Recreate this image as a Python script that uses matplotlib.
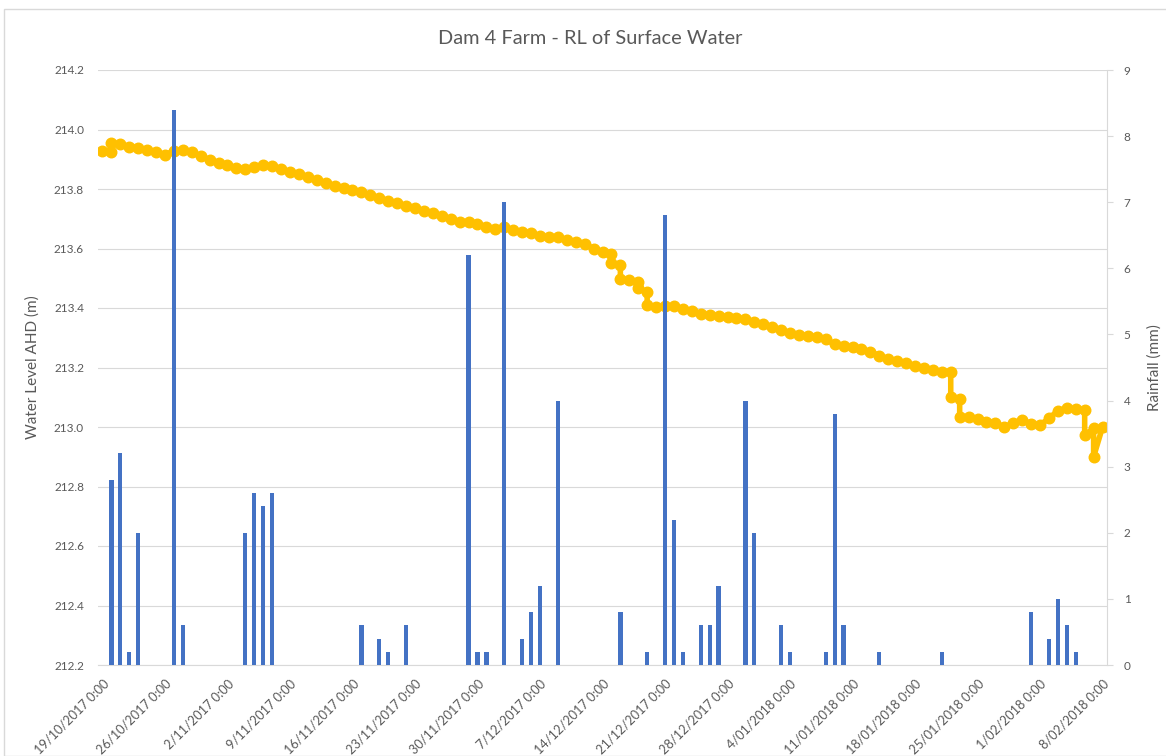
import matplotlib
matplotlib.use("Agg")
import matplotlib.pyplot as plt
import matplotlib.dates as mdates
import numpy as np
import pandas as pd
from matplotlib.patches import Rectangle

# ---------------- data ----------------
start_date = "2017-10-19"

# first water-level reading of each day (m AHD), 19/10/2017 .. 8/02/2018
level_daily = [
    213.928, 213.925, 213.951, 213.942, 213.939, 213.931, 213.923, 213.914, 213.929, 213.931,
    213.923, 213.912, 213.897, 213.889, 213.881, 213.869, 213.866, 213.873, 213.880, 213.877,
    213.866, 213.857, 213.850, 213.839, 213.830, 213.821, 213.810, 213.803, 213.795, 213.789,
    213.780, 213.769, 213.761, 213.752, 213.744, 213.735, 213.727, 213.718, 213.710, 213.699,
    213.690, 213.688, 213.682, 213.673, 213.666, 213.673, 213.662, 213.656, 213.651, 213.643,
    213.637, 213.637, 213.628, 213.623, 213.615, 213.600, 213.589, 213.582, 213.545, 213.494,
    213.488, 213.455, 213.404, 213.407, 213.407, 213.398, 213.390, 213.380, 213.376, 213.373,
    213.369, 213.365, 213.362, 213.354, 213.345, 213.335, 213.326, 213.317, 213.309, 213.306,
    213.303, 213.295, 213.278, 213.272, 213.268, 213.261, 213.253, 213.240, 213.229, 213.222,
    213.214, 213.205, 213.200, 213.193, 213.186, 213.186, 213.093, 213.032, 213.026, 213.018,
    213.012, 213.001, 213.012, 213.024, 213.010, 213.007, 213.029, 213.055, 213.063, 213.059,
    213.057, 212.995, 213.000,
]

# later readings on days with a rapid change within the day
step_dates = ["2017-10-20", "2017-12-15", "2017-12-16", "2017-12-18", "2017-12-19",
              "2018-01-22", "2018-01-23", "2018-02-06", "2018-02-07"]
step_levels = [213.955, 213.550, 213.497, 213.466, 213.410,
               213.100, 213.035, 212.973, 212.900]

rain_dates = [
    "2017-10-20", "2017-10-21", "2017-10-22", "2017-10-23", "2017-10-27", "2017-10-28",
    "2017-11-04", "2017-11-05", "2017-11-06", "2017-11-07", "2017-11-17", "2017-11-19",
    "2017-11-20", "2017-11-22", "2017-11-29", "2017-11-30", "2017-12-01", "2017-12-03",
    "2017-12-05", "2017-12-06", "2017-12-07", "2017-12-09", "2017-12-16", "2017-12-19",
    "2017-12-21", "2017-12-22", "2017-12-23", "2017-12-25", "2017-12-26", "2017-12-27",
    "2017-12-30", "2017-12-31", "2018-01-03", "2018-01-04", "2018-01-08", "2018-01-09",
    "2018-01-10", "2018-01-14", "2018-01-21", "2018-01-31", "2018-02-02", "2018-02-03",
    "2018-02-04", "2018-02-05",
]
rain_mm = [
    2.8, 3.2, 0.2, 2.0, 8.4, 0.6,
    2.0, 2.6, 2.4, 2.6, 0.6, 0.4,
    0.2, 0.6, 6.2, 0.2, 0.2, 7.0,
    0.4, 0.8, 1.2, 4.0, 0.8, 0.2,
    6.8, 2.2, 0.2, 0.6, 0.6, 1.2,
    4.0, 2.0, 0.6, 0.2, 0.2, 3.8,
    0.6, 0.2, 0.2, 0.8, 0.4, 1.0,
    0.6, 0.2,
]

title = "Dam 4 Farm - RL of Surface Water"
left_label = "Water Level AHD (m)"
right_label = "Rainfall (mm)"

# ---------------- build line ----------------
days = pd.date_range(start_date, periods=len(level_daily), freq="D")
step_map = {}
for d, v in zip(pd.to_datetime(step_dates), step_levels):
    step_map.setdefault(d, []).append(v)
lx, ly = [], []
for d, v in zip(days, level_daily):
    lx.append(d); ly.append(v)
    for sv in step_map.get(d, []):
        lx.append(d); ly.append(sv)
lx = mdates.date2num(pd.to_datetime(lx).to_pydatetime())
rx = mdates.date2num(pd.to_datetime(rain_dates).to_pydatetime())

# ---------------- figure ----------------
W, H = 1166, 756
fig = plt.figure(figsize=(W / 100, H / 100), dpi=100)
fig.patch.set_facecolor("white")
fig.patches.append(Rectangle((4 / W, 0), 2, (H - 9) / H, transform=fig.transFigure,
                             fill=False, edgecolor="#D9D9D9", lw=1.0))

font = ["Lato", "DejaVu Sans"]
txt = "#595959"
L, R, T, B = 98, 1107, 70, 665
ax = fig.add_axes([L / W, (H - B) / H, (R - L) / W, (B - T) / H])
ax2 = ax.twinx()

ax.set_ylim(212.2, 214.2)
yt = np.round(np.arange(212.2, 214.21, 0.2), 1)
ax.set_yticks(yt)
ax.set_yticklabels([f"{v:.1f}" for v in yt], fontsize=8.5, color=txt, family=font)
ax.yaxis.grid(True, color="#D9D9D9", lw=0.8)
ax.set_axisbelow(True)

ax.plot(lx, ly, color="#FFC000", lw=4, marker="o", ms=7.6, mec="#FFC000", mfc="#FFC000",
        solid_joinstyle="round", zorder=3)

ax2.bar(rx, rain_mm, width=0.48, color="#4472C4", zorder=3)
ax2.set_ylim(0, 9)
ax2.set_yticks(range(10))
ax2.set_yticklabels([str(i) for i in range(10)], fontsize=8.5, color=txt, family=font)

x0 = mdates.date2num(days[0].to_pydatetime())
x1 = mdates.date2num(days[-1].to_pydatetime())
ax.set_xlim(x0 - 0.5, x1 + 0.5)
ticks = days[::7]
ax.set_xticks(mdates.date2num(ticks.to_pydatetime()))
ax.set_xticklabels([f"{d.day}/{d.month:02d}/{d.year} 0:00" for d in ticks],
                   rotation=45, ha="right", va="top", rotation_mode="anchor",
                   fontsize=9.2, color=txt, family=font)

for a in (ax, ax2):
    for s in ("top", "left", "right", "bottom"):
        a.spines[s].set_visible(False)
ax.spines["bottom"].set_visible(True)
ax.spines["bottom"].set_color("#D9D9D9")
ax2.spines["right"].set_visible(True)
ax2.spines["right"].set_color("#D9D9D9")

ax.tick_params(axis="x", length=0, pad=9)
ax.tick_params(axis="y", length=0, pad=10)
ax2.tick_params(axis="y", length=4, color="#D9D9D9", pad=8)

ax.set_ylabel(left_label, fontsize=11, color=txt, family=font)
ax.yaxis.set_label_coords((40 - L) / (R - L), 0.5)
ax2.set_ylabel(right_label, fontsize=11, color=txt, family=font, rotation=90)
ax2.yaxis.set_label_coords((1147 - L) / (R - L), 0.5)

fig.text(590 / W, 1 - 38 / H, title, ha="center", va="center", fontsize=14.4,
         color=txt, family=font)

fig.savefig("out.png", dpi=100)
